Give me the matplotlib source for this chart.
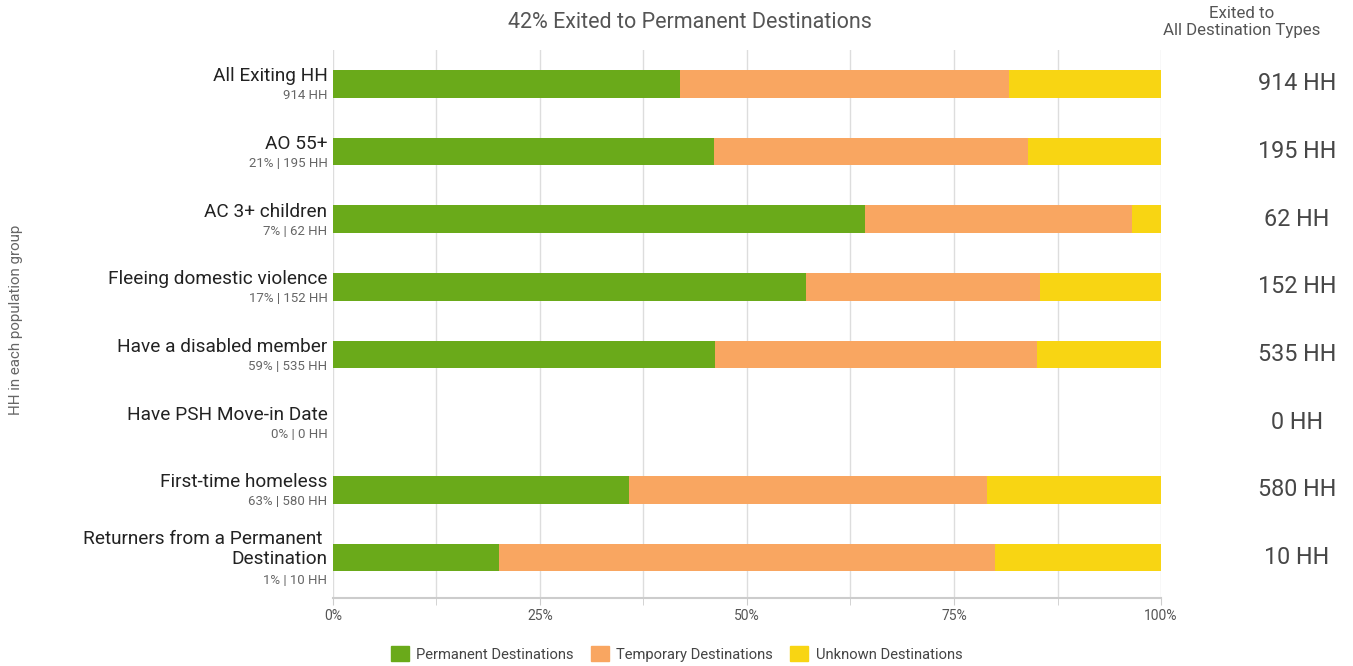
import numpy as np
import matplotlib
matplotlib.use('Agg')
from matplotlib import pyplot as plt
from matplotlib.patches import Patch

plt.rcParams['font.family'] = ['Roboto', 'DejaVu Sans']

# データ
groups = ['All Exiting HH', 'AO 55+', 'AC 3+ children', 'Fleeing domestic violence',
          'Have a disabled member', 'Have PSH Move-in Date', 'First-time homeless',
          'Returners from a Permanent \nDestination']
subLabels = ['914 HH', '21% | 195 HH', '7% | 62 HH', '17% | 152 HH',
             '59% | 535 HH', '0% | 0 HH', '63% | 580 HH', '1% | 10 HH']
totals = ['914 HH', '195 HH', '62 HH', '152 HH', '535 HH', '0 HH', '580 HH', '10 HH']
permanent = [41.9, 46.0, 64.3, 57.1, 46.1, 0.0, 35.7, 20.0]
temporary = [39.7, 37.9, 32.2, 28.3, 38.9, 0.0, 43.3, 60.0]
unknown = [18.4, 16.1, 3.5, 14.6, 15.0, 0.0, 21.0, 20.0]
seriesNames = ['Permanent Destinations', 'Temporary Destinations', 'Unknown Destinations']
colors = ['#6aaa1a', '#f9a661', '#f8d513']

fig = plt.figure(figsize=(13.53, 6.66), dpi=100)
ax = fig.add_axes([0.2461, 0.102, 0.612, 0.823])

y = np.arange(len(groups))
left = np.zeros(len(groups))
for vals, c in zip([permanent, temporary, unknown], colors):
    ax.barh(y, vals, left=left, height=0.41, color=c, zorder=3)
    left += np.array(vals)

ax.set_xlim(0, 100)
ax.set_ylim(7.6, -0.5)
ax.set_xticks([0, 25, 50, 75, 100])
ax.set_xticklabels(['0%', '25%', '50%', '75%', '100%'], fontsize=10, color='#555555')
ax.set_xticks(np.arange(0, 101, 12.5), minor=True)
ax.grid(axis='x', which='both', color='#dddddd', linewidth=1, zorder=0)
ax.tick_params(axis='x', which='both', length=5, color='#cccccc', pad=3)
ax.set_yticks([])
for s in ['top', 'right', 'left']:
    ax.spines[s].set_visible(False)
ax.spines['bottom'].set_color('#cccccc')
ax.spines['bottom'].set_linewidth(1.5)

# 左側のラベル（複数行のときはブロック全体を下にずらす）
for i, (g, sub) in enumerate(zip(groups, subLabels)):
    extra = g.count('\n')
    ax.annotate(g, xy=(0, i), xycoords=('axes fraction', 'data'), xytext=(-4, -1 - 6.5 * extra),
                textcoords='offset points', ha='right', va='bottom', fontsize=13.7,
                color='#222222', linespacing=1.15)
    ax.annotate(sub, xy=(0, i), xycoords=('axes fraction', 'data'), xytext=(-4, -4 - 8 * extra),
                textcoords='offset points', ha='right', va='top', fontsize=9.5,
                color='#666666')

# 右側の合計
for i, t in enumerate(totals):
    ax.annotate(t, xy=(1, i), xycoords=('axes fraction', 'data'), xytext=(98, 0),
                textcoords='offset points', ha='center', va='center', fontsize=16.8,
                color='#474747')

fig.text(0.51, 0.966, '42% Exited to Permanent Destinations', ha='center', va='center',
         fontsize=15.5, color='#555555')
fig.text(0.918, 0.9665, 'Exited to\nAll Destination Types', ha='center', va='center',
         fontsize=12.2, color='#555555', linespacing=1.15)
fig.text(0.012, 0.52, 'HH in each population group', rotation=90, ha='center', va='center',
         fontsize=10.9, color='#666666')

handles = [Patch(color=c, label=n) for c, n in zip(colors, seriesNames)]
fig.legend(handles=handles, loc='center', bbox_to_anchor=(0.5, 0.018), ncol=3, frameon=False,
           fontsize=10.6, handlelength=1.2, handleheight=1.2, columnspacing=1.2,
           handletextpad=0.5, labelcolor='#444444')

fig.savefig('out.png', dpi=100)
